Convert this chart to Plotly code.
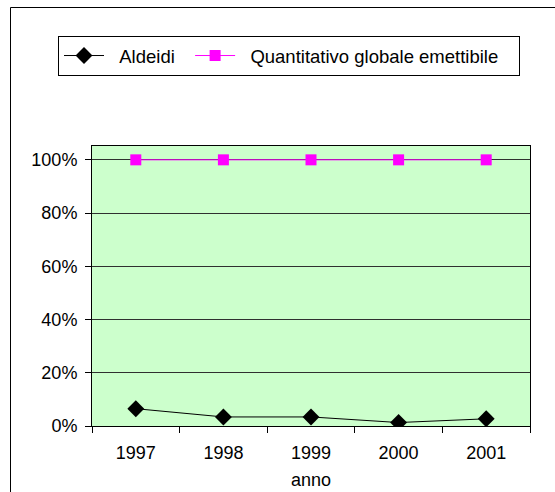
import plotly.graph_objects as go

years = ["1997", "1998", "1999", "2000", "2001"]
aldeidi = [0.065, 0.034, 0.034, 0.013, 0.027]
quantitativo = [1.0, 1.0, 1.0, 1.0, 1.0]
y_ticks = [0, 0.2, 0.4, 0.6, 0.8, 1.0]
names = ["Aldeidi", "Quantitativo globale emettibile"]

W, H = 555, 492
L, R, T, B = 92, 25, 146, 66
pw, ph = W - L - R, H - T - B

def px(x):
    return (x - L) / pw

def py(y):
    return (H - B - y) / ph

NB = "\u00a0"
font = "Liberation Sans, Arial, sans-serif"

fig = go.Figure()
fig.add_trace(go.Scatter(
    x=years, y=aldeidi, name=NB * 2 + names[0] + NB * 2, mode="lines+markers",
    line=dict(color="#000000", width=1),
    marker=dict(symbol="diamond", size=13, color="#000000"),
))
fig.add_trace(go.Scatter(
    x=years, y=quantitativo, name=NB * 2 + names[1] + NB * 3, mode="lines+markers",
    line=dict(color="#FF00FF", width=1),
    marker=dict(symbol="square", size=11, color="#FF00FF"),
))

fig.update_layout(
    width=W, height=H,
    margin=dict(l=L, r=R, t=T, b=B),
    paper_bgcolor="white",
    plot_bgcolor="#CCFFCC",
    font=dict(family=font, size=18, color="#000000"),
    showlegend=True,
    legend=dict(
        orientation="h", x=px(58), y=py(36), xanchor="left", yanchor="top",
        bordercolor="#000000", borderwidth=1, bgcolor="white",
        font=dict(size=18.5), itemwidth=40,
    ),
    xaxis=dict(
        type="category", tickson="boundaries", ticks="outside", ticklen=6,
        tickcolor="#000000", showline=True, linecolor="#000000", mirror=True,
        showgrid=False, ticklabelstandoff=10, automargin=False,
        title=dict(text="anno", standoff=11, font=dict(size=18)),
        range=[-0.5, 4.5],
    ),
    yaxis=dict(
        range=[0, 1.052], tickvals=y_ticks, tickformat=".0%",
        ticks="outside", ticklen=6, tickcolor="#000000", ticklabelstandoff=4,
        showline=True, linecolor="#000000", mirror=True, automargin=False,
        showgrid=True, gridcolor="#303030", gridwidth=1, zeroline=False,
    ),
    shapes=[
        dict(type="line", xref="paper", yref="paper", x0=px(10.5), x1=px(W + 5),
             y0=py(7.5), y1=py(7.5), line=dict(color="#000000", width=1)),
        dict(type="line", xref="paper", yref="paper", x0=px(10.5), x1=px(10.5),
             y0=py(7.5), y1=py(H + 5), line=dict(color="#000000", width=1)),
    ],
)

fig.write_html("out.html", config={"displayModeBar": False},
               post_script="document.body.style.margin='0';")
